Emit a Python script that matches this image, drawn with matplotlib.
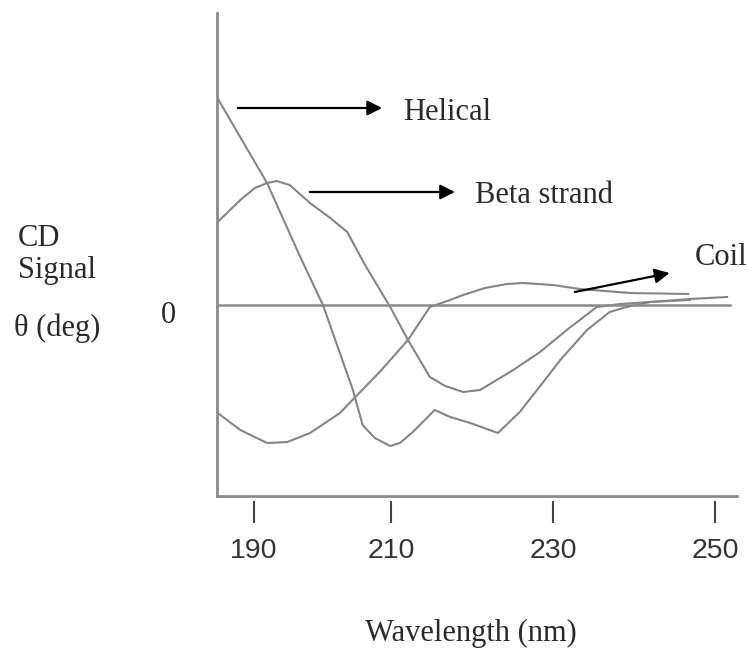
import matplotlib.pyplot as plt

# wavelength (nm) and CD signal (arbitrary units)
helical_wl = [188.5, 194.7, 198.8, 201.6, 205.3, 206.5, 208.0, 209.9, 211.1, 212.7,
              215.4, 217.3, 219.8, 223.2, 225.9, 229.0, 230.9, 234.2, 237.0, 239.1,
              242.0, 246.9, 251.5]
helical_sig = [20.8, 12.2, 4.8, 0.0, -8.5, -12.0, -13.3, -14.1, -13.8, -12.7,
               -10.5, -11.2, -11.8, -12.8, -10.7, -7.5, -5.5, -2.5, -0.7, -0.2,
               0.3, 0.6, 0.8]

beta_wl = [188.6, 191.4, 193.2, 194.7, 195.9, 197.5, 200.0, 202.5, 204.6, 206.8,
           209.9, 212.1, 214.8, 216.7, 218.9, 221.0, 225.1, 228.4, 231.7, 235.4,
           238.3, 242.0, 246.9]
beta_sig = [8.3, 10.5, 11.7, 12.2, 12.4, 12.0, 10.2, 8.7, 7.3, 4.0,
            -0.2, -3.5, -7.2, -8.1, -8.7, -8.5, -6.5, -4.7, -2.5, -0.2,
            0.1, 0.3, 0.5]

coil_wl = [188.6, 191.4, 194.7, 197.2, 200.0, 203.7, 205.6, 208.6, 212.1, 214.8,
           217.3, 218.9, 221.6, 224.3, 226.3, 230.0, 233.3, 239.5, 246.7]
coil_sig = [-10.8, -12.5, -13.8, -13.7, -12.8, -10.8, -9.2, -6.7, -3.5, -0.2,
            0.5, 1.0, 1.7, 2.1, 2.2, 2.0, 1.6, 1.2, 1.1]

tick_labels = ['190', '210', '230', '250']

W, H = 748, 650


def px(x, y):
    # figure pixel (from top-left) -> figure fraction
    return x / W, 1 - y / H


fig = plt.figure(figsize=(W / 100, H / 100), dpi=100)
ax = fig.add_axes([217 / W, 1 - 496 / H, (737 - 217) / W, (496 - 13) / H])
ax.set_xlim(188.52, 252.72)
ax.set_ylim(-19.1, 29.2)

curve_kw = dict(color='#858585', lw=1.5, solid_joinstyle='round')
ax.plot(helical_wl, helical_sig, **curve_kw)
ax.plot(beta_wl, beta_sig, **curve_kw)
ax.plot(coil_wl, coil_sig, **curve_kw)
ax.plot([188.52, 251.9], [0, 0], color='#8a8a8a', lw=1.8)

for s in ['top', 'right']:
    ax.spines[s].set_visible(False)
for s in ['left', 'bottom']:
    ax.spines[s].set_color('#8a8a8a')
    ax.spines[s].set_linewidth(2)

# ticks sit below the axis line with a small gap
tick_pos = [193.1, 210, 230, 250]
ax.set_yticks([])
ax.set_xticks(tick_pos)
ax.set_xticklabels(tick_labels, fontsize=20.5, family='Liberation Sans', color='#333333')
ax.tick_params(axis='x', length=0, pad=30)
ax.vlines(tick_pos, -0.011, -0.056, transform=ax.get_xaxis_transform(),
          color='#444444', lw=1.5, clip_on=False)

# arrows
arrow_kw = dict(arrowstyle='-|>', mutation_scale=22, lw=1.6, color='black',
                shrinkA=0, shrinkB=0)
ax.annotate('', xy=(208.9, 19.7), xytext=(191.1, 19.7), arrowprops=arrow_kw)
ax.annotate('', xy=(217.9, 11.3), xytext=(200.0, 11.3), arrowprops=arrow_kw)
ax.annotate('', xy=(244.4, 3.2), xytext=(232.7, 1.3), arrowprops=arrow_kw)

serif = dict(family='Liberation Serif', fontsize=22, color='#2a2a2a', va='center')
fig.text(*px(403, 112), 'Helical', **serif)
fig.text(*px(475, 195), 'Beta strand', **serif)
fig.text(*px(695, 257), 'Coil', **serif)
fig.text(*px(18, 238), 'CD', **serif)
fig.text(*px(18, 270), 'Signal', **serif)
fig.text(*px(14, 328), 'θ (deg)', **serif)
fig.text(*px(168, 315), '0', ha='center', **serif)
fig.text(*px(471, 633), 'Wavelength (nm)', ha='center', **serif)

fig.savefig('out.png', dpi=100)
